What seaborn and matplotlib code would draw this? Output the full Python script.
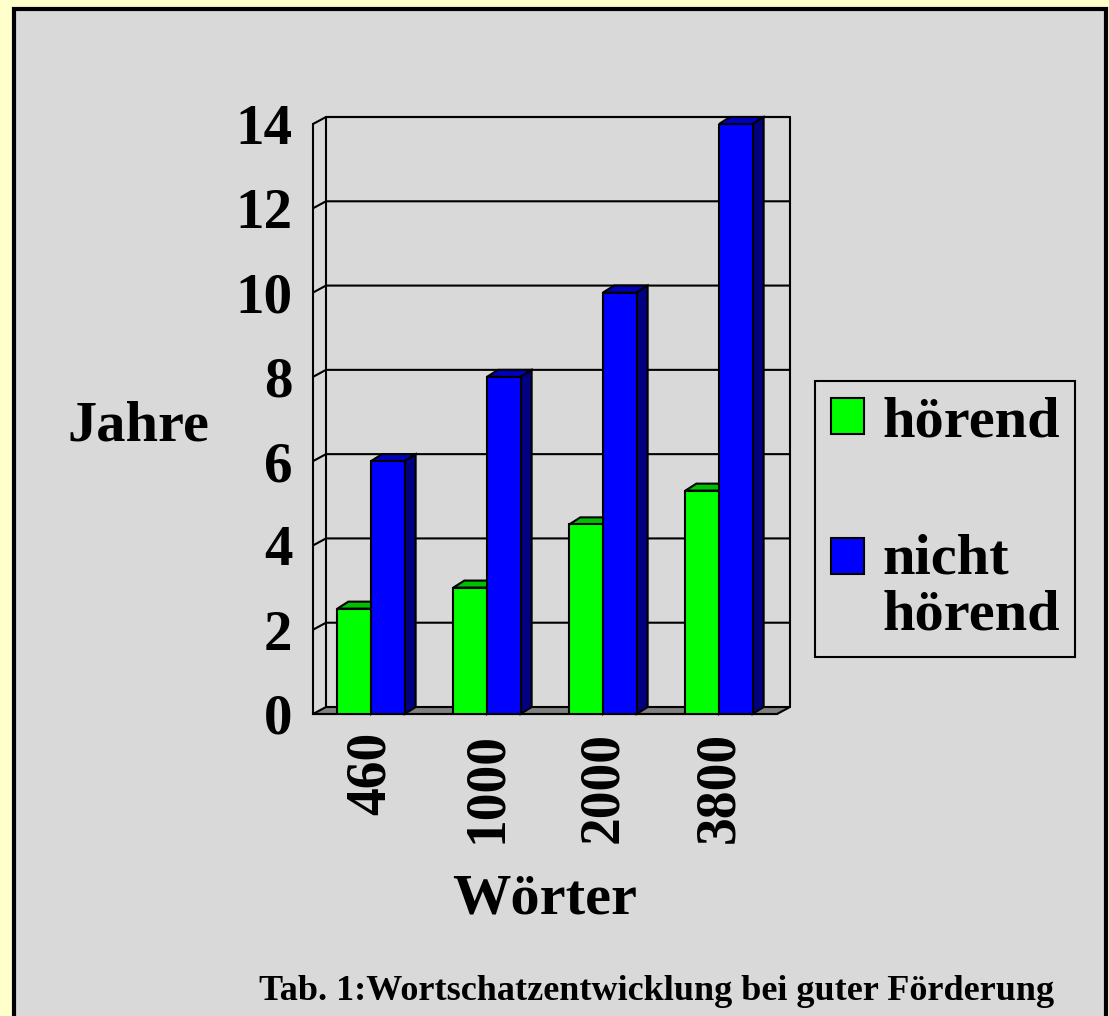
import pandas as pd
import matplotlib
matplotlib.use("Agg")
import matplotlib.pyplot as plt
import seaborn as sns
from matplotlib.patches import Patch, Polygon, Rectangle

# --- data ---
woerter = ["460", "1000", "2000", "3800"]
hoerend = [2.5, 3.0, 4.5, 5.3]
nicht_hoerend = [6, 8, 10, 14]
gruppen = ["hörend", "nicht\nhörend"]
y_ticks = [0, 2, 4, 6, 8, 10, 12, 14]
caption = "Tab. 1:Wortschatzentwicklung bei guter Förderung"

df = pd.DataFrame({
    "Wörter": woerter * 2,
    "Jahre": hoerend + nicht_hoerend,
    "Gruppe": [gruppen[0]] * len(woerter) + [gruppen[1]] * len(woerter),
})

# --- colours ---
BG = "#d9d9d9"
YELLOW = "#ffffcc"
GREEN, BLUE = "#00ff00", "#0000ff"
TOPS = {GREEN: "#00c000", BLUE: "#0000c0"}
SIDES = {GREEN: "#008000", BLUE: "#000080"}

sns.set_theme(style="white", rc={"text.color": "black", "axes.labelcolor": "black",
                                 "xtick.color": "black", "ytick.color": "black",
                                 "axes.edgecolor": "black"})
plt.rcParams["font.family"] = ["Liberation Serif", "DejaVu Serif"]
plt.rcParams["font.weight"] = "bold"
plt.rcParams["axes.labelweight"] = "bold"

W, H = 1109, 1016
fig = plt.figure(figsize=(W / 100, H / 100), dpi=100, facecolor=YELLOW)

# gray panel with black frame (bottom edge runs off the picture)
fig.add_artist(Rectangle((14 / W, -0.05), (1106 - 14) / W, 1.05 - 8.5 / H,
                         transform=fig.transFigure, facecolor=BG,
                         edgecolor="black", linewidth=3, zorder=-10))

ax = fig.add_axes([313 / W, 1 - 714 / H, 464 / W, 590 / H])
ax.patch.set_visible(False)

sns.barplot(data=df, x="Wörter", y="Jahre", hue="Gruppe", hue_order=gruppen,
            palette=[GREEN, BLUE], width=0.58, gap=0, saturation=1,
            edgecolor="black", linewidth=1.5, legend=False, ax=ax, zorder=3)

ax.set_xlim(-0.5, len(woerter) - 0.5)
ax.set_ylim(0, max(y_ticks))
ax.set_yticks(y_ticks)
x0, x1 = ax.get_xlim()
ymax = max(y_ticks)

# pixel -> data conversion for the pseudo 3D depth
ux = ax.bbox.width / (x1 - x0)
uy = ax.bbox.height / ymax
wx, wy = 13 / ux, 7 / uy      # back wall offset
dx, dy = 11 / ux, 7 / uy      # bar depth

line_kw = dict(color="black", lw=1.5, clip_on=False, zorder=1)

# floor
ax.add_patch(Polygon([(x0, 0), (x1, 0), (x1 + wx, wy), (x0 + wx, wy)], closed=True,
                     facecolor="#808080", edgecolor="black", lw=1.5,
                     clip_on=False, zorder=1))
# back wall outline + gridlines
ax.plot([x0 + wx, x0 + wx, x1 + wx, x1 + wx], [wy, ymax + wy, ymax + wy, wy], **line_kw)
for v in y_ticks[1:]:
    ax.plot([x0, x0 + wx, x1 + wx], [v, v + wy, v + wy], **line_kw)

# top and side faces of the bars
for container, color in zip(ax.containers, [GREEN, BLUE]):
    for bar in container:
        bx, bw, h = bar.get_x(), bar.get_width(), bar.get_height()
        ax.add_patch(Polygon([(bx, h), (bx + bw, h), (bx + bw + dx, h + dy), (bx + dx, h + dy)],
                             closed=True, facecolor=TOPS[color], edgecolor="black",
                             lw=1.5, clip_on=False, zorder=2))
        ax.add_patch(Polygon([(bx + bw, 0), (bx + bw + dx, dy), (bx + bw + dx, h + dy), (bx + bw, h)],
                             closed=True, facecolor=SIDES[color], edgecolor="black",
                             lw=1.5, clip_on=False, zorder=2))

# spines / ticks
for s in ["top", "right"]:
    ax.spines[s].set_visible(False)
for s in ["left", "bottom"]:
    ax.spines[s].set_linewidth(1.5)
    ax.spines[s].set_color("black")

ax.set_xticks([x0 + i for i in range(len(woerter) + 1)], minor=True)
ax.tick_params(axis="y", direction="out", length=6, width=1.5, pad=9, labelsize=41)
ax.tick_params(axis="x", which="major", length=0, pad=13, labelsize=40, labelrotation=90)
ax.tick_params(axis="x", which="minor", direction="out", length=6, width=1.5)

ax.set_xlabel("Wörter", fontsize=42)
ax.xaxis.set_label_coords(0.5, -0.27)
ax.set_ylabel("Jahre", fontsize=42, rotation=0, ha="center", va="center")
ax.yaxis.set_label_coords(-0.376, 0.488)

# legend
handles = [Patch(facecolor=GREEN, edgecolor="black", linewidth=1.5),
           Patch(facecolor=BLUE, edgecolor="black", linewidth=1.5)]
leg = ax.legend(handles, gruppen, loc="upper left",
                bbox_to_anchor=(815 / W, 1 - 381 / H), bbox_transform=fig.transFigure,
                frameon=True, fancybox=False, edgecolor="black", facecolor=BG,
                framealpha=1, prop={"size": 42, "weight": "bold"},
                handlelength=0.57, handleheight=0.57, handletextpad=0.31,
                borderpad=0.27, labelspacing=1.45, borderaxespad=0)
leg.get_frame().set_linewidth(1.5)
leg.get_texts()[1].set_linespacing(1.1)
# put the blue square next to the first line of its two-line label
leg.legend_handles[1].set_y(leg.legend_handles[1].get_y() + 22)

fig.text(657 / W, 1 - 991 / H, caption, ha="center", va="center", fontsize=26)

fig.savefig("out.png", dpi=100, facecolor=YELLOW)
